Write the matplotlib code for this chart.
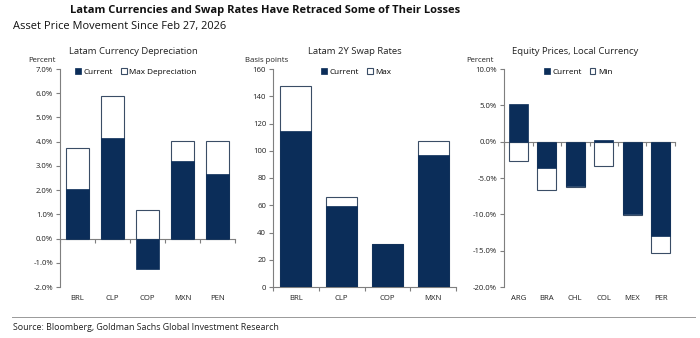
import matplotlib
matplotlib.use("Agg")
import matplotlib.pyplot as plt
from matplotlib.patches import Patch
from matplotlib.lines import Line2D
import matplotlib.ticker as mticker
import numpy as np

plt.rcParams['font.family'] = ['Open Sans', 'DejaVu Sans']

# ---- data ----
fx_labels = ["BRL", "CLP", "COP", "MXN", "PEN"]
fx_current = [2.04, 4.16, -1.27, 3.21, 2.66]
fx_max = [3.72, 5.88, 1.18, 4.02, 4.02]

swap_labels = ["BRL", "CLP", "COP", "MXN"]
swap_current = [114.7, 59.2, 31.3, 97.0]
swap_max = [147.5, 66.0, 31.3, 107.0]

eq_labels = ["ARG", "BRA", "CHL", "COL", "MEX", "PER"]
eq_current = [5.15, -3.67, -6.06, 0.28, -9.91, -12.98]
eq_min = [-2.66, -6.65, -6.24, -3.35, -10.14, -15.37]

NAVY = "#0b2d59"
EDGE = "#3a4d66"
AXC = "#7f7f7f"
TXT = "#222222"
TICK_FS = 5.6

fig = plt.figure(figsize=(7.0, 3.38), dpi=100)

def panel(rect, labels, cur, ext, ylim, yticks, fmt, title, title_x, unit, unit_x, leg_labels, leg_x):
    ax = fig.add_axes(rect)
    x = np.arange(len(labels))
    ax.bar(x, ext, width=0.68, color="white", edgecolor=EDGE, linewidth=0.8, zorder=2)
    ax.bar(x, cur, width=0.68, color=NAVY, edgecolor=NAVY, linewidth=0.5, zorder=3)
    ax.set_xlim(-0.5, len(labels) - 0.5)
    ax.set_ylim(*ylim)
    ax.set_yticks(yticks)
    ax.yaxis.set_major_formatter(mticker.FuncFormatter(fmt))
    for s in ["top", "right"]:
        ax.spines[s].set_visible(False)
    ax.spines["bottom"].set_position(("data", 0))
    ax.spines["left"].set_color(AXC)
    ax.spines["bottom"].set_color(AXC)
    ax.spines["left"].set_linewidth(0.8)
    ax.spines["bottom"].set_linewidth(0.8)
    ax.set_xticks(np.arange(len(labels) + 1) - 0.5)
    ax.set_xticklabels([])
    ax.tick_params(axis="x", direction="out", length=3, color=AXC, width=0.8)
    ax.tick_params(axis="y", direction="out", length=3, color=AXC, width=0.8,
                   labelsize=TICK_FS, labelcolor=TXT, pad=2)
    for xi, lab in zip(x, labels):
        ax.text(xi, -0.035, lab, transform=ax.get_xaxis_transform(),
                ha="center", va="top", fontsize=TICK_FS, color=TXT)
    fig.text(title_x, 1 - 52 / 338, title, ha="center", va="center", fontsize=6.8, color=TXT)
    fig.text(unit_x, 1 - 60 / 338, unit, ha="center", va="center", fontsize=TICK_FS, color=TXT)
    handles = [Patch(facecolor=NAVY, edgecolor=NAVY, linewidth=0.5),
               Patch(facecolor="white", edgecolor=EDGE, linewidth=0.8)]
    fig.legend(handles, leg_labels, loc="center", bbox_to_anchor=(leg_x, 1 - 72 / 338),
               ncol=2, frameon=False, fontsize=5.9, handlelength=0.7, handleheight=0.7,
               handletextpad=0.3, columnspacing=1.0, borderpad=0)
    return ax

bottom = 1 - 287 / 338
height = (287 - 69) / 338

panel([60 / 700, bottom, 175 / 700, height], fx_labels, fx_current, fx_max,
      (-2, 7), np.arange(-2, 8, 1), lambda v, p: f"{v:.1f}%",
      "Latam Currency Depreciation", 133 / 700, "Percent", 42 / 700,
      ["Current", "Max Depreciation"], 136 / 700)

panel([273 / 700, bottom, 183 / 700, height], swap_labels, swap_current, swap_max,
      (0, 160), np.arange(0, 161, 20), lambda v, p: f"{v:.0f}",
      "Latam 2Y Swap Rates", 355 / 700, "Basis points", 267 / 700,
      ["Current", "Max"], 356 / 700)

panel([504 / 700, bottom, 171 / 700, height], eq_labels, eq_current, eq_min,
      (-20, 10), np.arange(-20, 11, 5), lambda v, p: f"{v:.1f}%",
      "Equity Prices, Local Currency", 575 / 700, "Percent", 480 / 700,
      ["Current", "Min"], 578 / 700)

fig.text(70 / 700, 1 - 11 / 338, "Latam Currencies and Swap Rates Have Retraced Some of Their Losses",
         ha="left", va="center", fontsize=8.0, fontweight="bold", color="#111111")
fig.text(13 / 700, 1 - 26 / 338, "Asset Price Movement Since Feb 27, 2026",
         ha="left", va="center", fontsize=7.9, color="#111111")
fig.add_artist(Line2D([12 / 700, 695 / 700], [1 - 317 / 338, 1 - 317 / 338],
                      transform=fig.transFigure, color="#999999", linewidth=0.7))
fig.text(13 / 700, 1 - 328 / 338, "Source: Bloomberg, Goldman Sachs Global Investment Research",
         ha="left", va="center", fontsize=6.4, color=TXT)

fig.savefig("out.png", dpi=100)
